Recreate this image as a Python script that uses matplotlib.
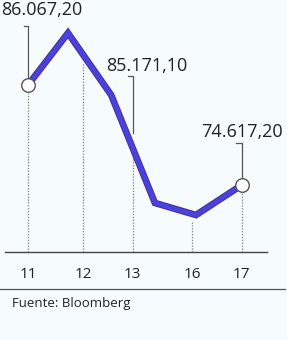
import numpy as np
import matplotlib.pyplot as plt
import matplotlib.transforms as mtransforms

# ---- data ----
day_labels = ["11", "12", "13", "16", "17"]
day_pos = [0.0, 1.02, 1.94, 3.04, 3.96]            # position of each session on the x scale
line_x = [0.0, 0.74, 1.54, 2.35, 3.11, 3.96]       # points of the index line
line_v = [86067.2, 92020.0, 84920.0, 72560.0, 71180.0, 74617.2]

# labelled values
lab_x = [0.0, 1.94, 3.96]
lab_text = ["86.067,20", "85.171,10", "74.617,20"]
source = "Fuente: Bloomberg"

# ---- styling ----
BG = "#f6fbfd"
INK = "#222222"
FONT = "Open Sans"

fig = plt.figure(figsize=(2.87, 3.40), dpi=100, facecolor=BG)
ax = fig.add_axes([0, 0, 1, 1])
ax.set_facecolor(BG)
ax.axis("off")
ax.set_xlim(-0.519, 4.796)
ax.set_ylim(56870, 95800)

# main line: dark purple edge with a brighter blue core
ax.plot(line_x, line_v, color="#4a2c9e", lw=4.8, solid_joinstyle="miter",
        solid_capstyle="butt", zorder=3)
ax.plot(line_x, line_v, color="#4a42dc", lw=3.3, solid_joinstyle="miter",
        solid_capstyle="butt", zorder=3)

# open circles at the first and last point
ax.scatter([line_x[0], line_x[-1]], [line_v[0], line_v[-1]], s=95,
           facecolor="white", edgecolor="#555555", linewidth=1.0, zorder=4)

# baseline and dotted drop lines from the line down to it
base_y = 66950
ax.plot([-0.43, 4.43], [base_y, base_y], color="#444444", lw=1.0, zorder=2)
line_at_tick = np.interp(day_pos, line_x, line_v)
for x, v in zip(day_pos, line_at_tick):
    top = v - 900
    ax.plot([x, x], [base_y, top], color="#6f8479", lw=0.9,
            linestyle=(0, (1, 1.3)), zorder=1)

# day labels
for x, t in zip(day_pos, day_labels):
    ax.text(x, 0.182, t, transform=ax.get_xaxis_transform(), ha="center",
            va="baseline", fontsize=11, color=INK, family=FONT)

# value labels with leader lines (offsets in pixels)
leaders = [(7, 59, -4, 14, 70), (15, 72, -5, 14, 77), (7, 42, -6, 0, 48)]
lab_v = np.interp(lab_x, line_x, line_v)
for x, v, t, (y0, y1, hook, tdx, tdy) in zip(lab_x, lab_v, lab_text, leaders):
    tr = mtransforms.IdentityTransform() + mtransforms.ScaledTranslation(x, v, ax.transData)
    ax.plot([0, 0, hook], [y0, y1, y1], color="#555555", lw=0.9,
            transform=tr, zorder=2, clip_on=False)
    ax.text(tdx, tdy, t, transform=tr, ha="center", va="baseline",
            fontsize=13, color=INK, family=FONT, fontweight="medium")

# source line
ax.plot([0, 0.993], [0.15, 0.15], transform=ax.transAxes, color="#555555", lw=0.9)
ax.text(0.042, 0.097, source, transform=ax.transAxes, ha="left", va="baseline",
        fontsize=9.5, color=INK, family=FONT)

fig.savefig("out.png", dpi=100, facecolor=BG)
plt.close(fig)
